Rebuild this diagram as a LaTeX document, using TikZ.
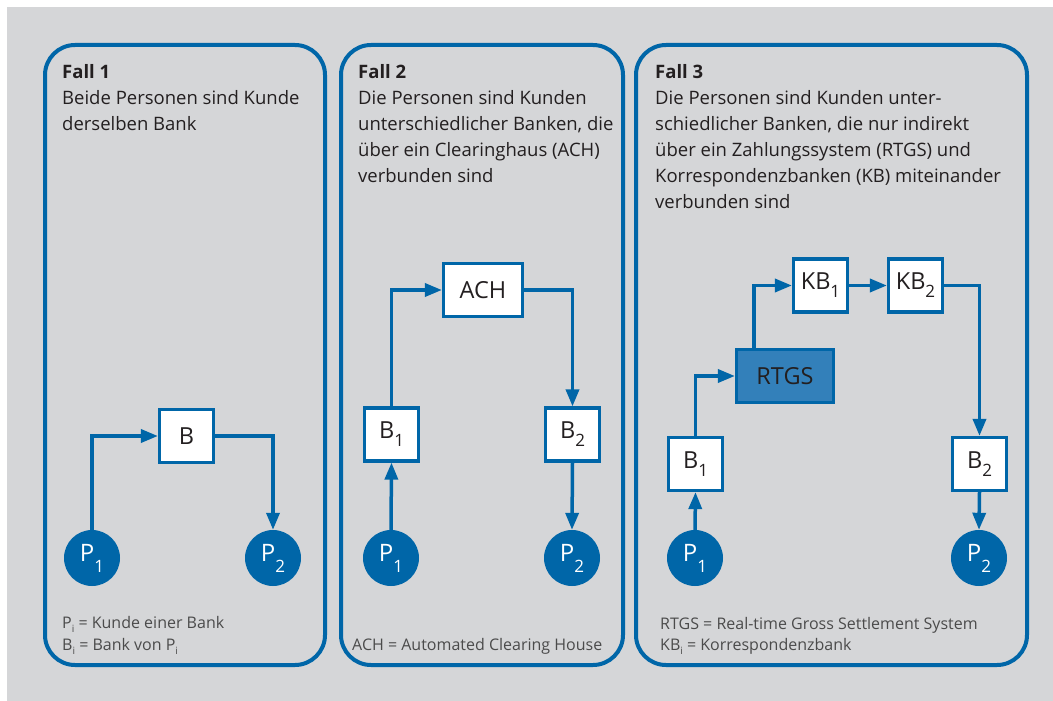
\documentclass[tikz,border=0pt]{standalone}
\usepackage{fontspec}
\setmainfont{Open Sans}
\usetikzlibrary{arrows.meta,calc}
\definecolor{bgc}{RGB}{213,214,216}
\definecolor{bblue}{RGB}{0,102,168}
\definecolor{rtgsc}{RGB}{51,128,186}
\definecolor{txt}{RGB}{35,31,32}
\definecolor{legc}{RGB}{75,75,75}
\newcommand\boxsub[1]{\raisebox{-8pt}{\fontsize{17}{17}\selectfont #1}}
\newcommand\circsub[1]{\raisebox{-11pt}{\fontsize{17}{17}\selectfont #1}}
\newcommand\legsub[1]{\raisebox{-4.5pt}{\fontsize{10}{10}\selectfont #1}}
\tikzset{
  panel/.style={draw=bblue, line width=4pt, rounded corners=30pt},
  bankbox/.style={draw=bblue, fill=white, line width=3.2pt, minimum width=54pt, minimum height=53pt, inner sep=0pt, text=txt, font=\fontsize{23.5}{23.5}\selectfont},
  rtgsbox/.style={bankbox, fill=rtgsc, minimum width=97pt},
  person/.style={circle, fill=bblue, minimum size=56pt, inner sep=0pt, text=white, font=\fontsize{24}{24}\selectfont},
  flow/.style={draw=bblue, line width=3.5pt, -{Triangle[length=17pt,width=13pt]}},
  title/.style={anchor=base west, inner sep=0pt, text=txt, font=\fontsize{18.5}{18.5}\selectfont\bfseries},
  desc/.style={anchor=base west, inner sep=0pt, text=txt, font=\fontsize{18.5}{18.5}\selectfont},
  legend/.style={anchor=base west, inner sep=0pt, text=legc, font=\fontsize{16}{16}\selectfont}
}
\begin{document}
\begin{tikzpicture}[x=1pt,y=-1pt]
\useasboundingbox (0,0) rectangle (1053,701);
\fill[white] (0,0) rectangle (1053,701);
\fill[bgc] (7,7) rectangle (1053,701);

% panels
\draw[panel] (45,45) rectangle (325,665);
\draw[panel] (341,45) rectangle (623,665);
\draw[panel] (636,45) rectangle (1027,665);

% ---------- Fall 1
\node[title] (f1) at (62,78) {Fall 1};
\foreach \t [count=\i] in {{Beide Personen sind Kunde},{derselben Bank}}
  \node[desc] (f1l\i) at (62,78+26*\i) {\t};
\node[bankbox] (aB) at (186.5,436) {B};
\node[person] (aP1) at (92,558) {P\circsub{1}};
\node[person] (aP2) at (273,558) {P\circsub{2}};
\draw[flow] (aP1.north) |- (aB.west);
\draw[flow] (aB.east) -| (aP2.north);
\node[legend] (al1) at (62,628) {P\legsub{i} = Kunde einer Bank};
\node[legend] (al2) at (62,650) {B\legsub{i} = Bank von P\legsub{i}};

% ---------- Fall 2
\node[title] (f2) at (358,78) {Fall 2};
\foreach \t [count=\i] in {{Die Personen sind Kunden},{unterschiedlicher Banken, die},{über ein Clearinghaus (ACH)},{verbunden sind}}
  \node[desc] (f2l\i) at (358,78+26*\i) {\t};
\node[bankbox, minimum width=79pt] (bACH) at (483,290) {ACH};
\node[bankbox] (bB1) at (391.5,434.5) {B\boxsub{1}};
\node[bankbox] (bB2) at (572.5,434.5) {B\boxsub{2}};
\node[person] (bP1) at (391,558) {P\circsub{1}};
\node[person] (bP2) at (572,558) {P\circsub{2}};
\draw[flow] (bP1.north) -- (bB1.south);
\draw[flow] (bB1.north) |- (bACH.west);
\draw[flow] (bACH.east) -| (bB2.north);
\draw[flow] (bB2.south) -- (bP2.north);
\node[legend] (bl1) at (352,650) {ACH = Automated Clearing House};

% ---------- Fall 3
\node[title] (f3) at (655,78) {Fall 3};
\foreach \t [count=\i] in {{Die Personen sind Kunden unter-},{schiedlicher Banken, die nur indirekt},{über ein Zahlungssystem (RTGS) und},{Korrespondenzbanken (KB) miteinander},{verbunden sind}}
  \node[desc] (f3l\i) at (655,78+26*\i) {\t};
\node[bankbox] (cKB1) at (820.5,285.5) {KB\boxsub{1}};
\node[bankbox] (cKB2) at (915.5,285.5) {KB\boxsub{2}};
\node[rtgsbox] (cR) at (785,376) {RTGS};
\node[bankbox] (cB1) at (695.5,464) {B\boxsub{1}};
\node[bankbox] (cB2) at (979.5,464) {B\boxsub{2}};
\node[person] (cP1) at (695,558) {P\circsub{1}};
\node[person] (cP2) at (979,558) {P\circsub{2}};
\coordinate (cRout) at ($(cR.north west)+(19,0)$);
\draw[flow] (cP1.north) -- (cB1.south);
\draw[flow] (cB1.north) |- (cR.west);
\draw[flow] (cRout) |- (cKB1.west);
\draw[flow] (cKB1.east) -- (cKB2.west);
\draw[flow] (cKB2.east) -| (cB2.north);
\draw[flow] (cB2.south) -- (cP2.north);
\node[legend] (cl1) at (660,629) {RTGS = Real-time Gross Settlement System};
\node[legend] (cl2) at (660,650) {KB\legsub{i} = Korrespondenzbank};
\end{tikzpicture}
\end{document}
